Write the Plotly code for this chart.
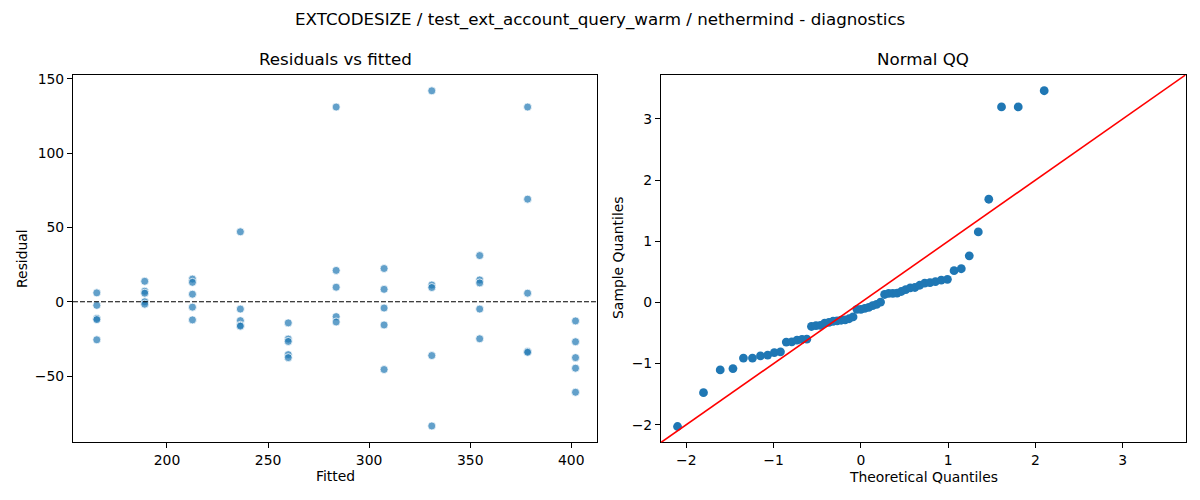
import plotly.graph_objects as go
from statistics import NormalDist
import numpy as np

# residuals vs fitted (5 runs per fitted level)
fitted = [165.3] * 5 + [189.0] * 5 + [212.6] * 5 + [236.3] * 5 + [260.0] * 5 + \
         [283.7] * 5 + [307.4] * 5 + [331.0] * 5 + [354.7] * 5 + [378.4] * 5 + [402.1] * 5
residual = [
    6.0, -2.4, -11.2, -12.0, -25.6,
    13.8, 7.1, 5.8, 0.0, -1.6,
    15.3, 13.1, 5.1, -3.6, -12.2,
    47.1, -4.9, -12.7, -15.8, -16.4,
    -14.2, -25.1, -26.7, -35.6, -37.6,
    131.1, 21.1, 9.8, -10.0, -13.6,
    22.4, 8.4, -4.2, -15.6, -45.6,
    142.0, 11.3, 9.6, -36.2, -83.6,
    31.1, 14.7, 12.7, -4.9, -24.9,
    131.1, 69.1, 5.8, -33.4, -34.0,
    -12.9, -26.9, -37.6, -44.7, -60.9,
]

# normal QQ of the standardized residuals
r = np.array(residual)
n = len(r)
sample_q = np.sort((r - r.mean()) / r.std())
theo_q = np.array([NormalDist().inv_cdf(i / (n + 1)) for i in range(1, n + 1)])

title = "EXTCODESIZE / test_ext_account_query_warm / nethermind - diagnostics"
FONT = "DejaVu Sans"
BLUE = "#1f77b4"

fig = go.Figure()

fig.add_trace(go.Scatter(
    x=fitted, y=residual, mode="markers", xaxis="x", yaxis="y",
    marker=dict(size=8, color="rgba(31,119,180,0.7)", line=dict(color="white", width=0.75)),
    showlegend=False))

fig.add_trace(go.Scatter(
    x=theo_q, y=sample_q, mode="markers", xaxis="x2", yaxis="y2",
    marker=dict(size=8.8, color=BLUE, line=dict(color=BLUE, width=0)),
    showlegend=False))

qq_lo, qq_hi = -2.29, 3.72

axis_style = dict(showline=True, mirror=True, linecolor="black", linewidth=1,
                  ticks="outside", ticklen=5, tickwidth=1, tickcolor="black",
                  showgrid=False, zeroline=False,
                  tickfont=dict(family=FONT, size=13.9, color="black"))

fig.update_layout(
    width=1200, height=500,
    margin=dict(l=0, r=0, t=0, b=0),
    paper_bgcolor="white", plot_bgcolor="white",
    font=dict(family=FONT, color="black"),
    xaxis=dict(domain=[0.0608, 0.4978], range=[153.5, 412.9],
               tickvals=[200, 250, 300, 350, 400], anchor="y", **axis_style),
    yaxis=dict(domain=[0.116, 0.857], range=[-94.7, 152.7],
               tickvals=[-50, 0, 50, 100, 150], anchor="x", **axis_style),
    xaxis2=dict(domain=[0.5508, 0.988], range=[qq_lo, qq_hi],
                tickvals=[-2, -1, 0, 1, 2, 3], anchor="y2", **axis_style),
    yaxis2=dict(domain=[0.116, 0.857], range=[qq_lo, qq_hi],
                tickvals=[-2, -1, 0, 1, 2, 3], anchor="x2", **axis_style),
    shapes=[
        dict(type="line", xref="x domain", yref="y", x0=0, x1=1, y0=0, y1=0,
             line=dict(color="black", width=1.1, dash="5px,2px")),
        dict(type="line", xref="x2", yref="y2", x0=qq_lo, x1=qq_hi, y0=qq_lo, y1=qq_hi,
             line=dict(color="red", width=1.6)),
    ],
)

ann = [
    dict(text=title, x=0.5, y=16, size=16.7),
    dict(text="Residuals vs fitted", x=(0.0608 + 0.4978) / 2, y=55, size=16.7),
    dict(text="Normal QQ", x=(0.5508 + 0.988) / 2, y=55, size=16.7),
    dict(text="Fitted", x=(0.0608 + 0.4978) / 2, y=476, size=13.9),
    dict(text="Theoretical Quantiles", x=(0.5508 + 0.988) / 2, y=477, size=13.9),
]
for a in ann:
    fig.add_annotation(text=a["text"], xref="paper", yref="paper", x=a["x"],
                       y=1 - a["y"] / 500, showarrow=False, xanchor="center", yanchor="middle",
                       font=dict(family=FONT, size=a["size"], color="black"))

fig.add_annotation(text="Residual", xref="paper", yref="paper", x=22 / 1200, y=1 - 257 / 500,
                   showarrow=False, textangle=-90, xanchor="center", yanchor="middle",
                   font=dict(family=FONT, size=13.9, color="black"))
fig.add_annotation(text="Sample Quantiles", xref="paper", yref="paper", x=618 / 1200, y=1 - 256 / 500,
                   showarrow=False, textangle=-90, xanchor="center", yanchor="middle",
                   font=dict(family=FONT, size=13.9, color="black"))

# drop the browser's default body margin so the figure sits at the page corner
fig.write_html("out.html", config={"displayModeBar": False},
               post_script="document.body.style.margin='0';")
